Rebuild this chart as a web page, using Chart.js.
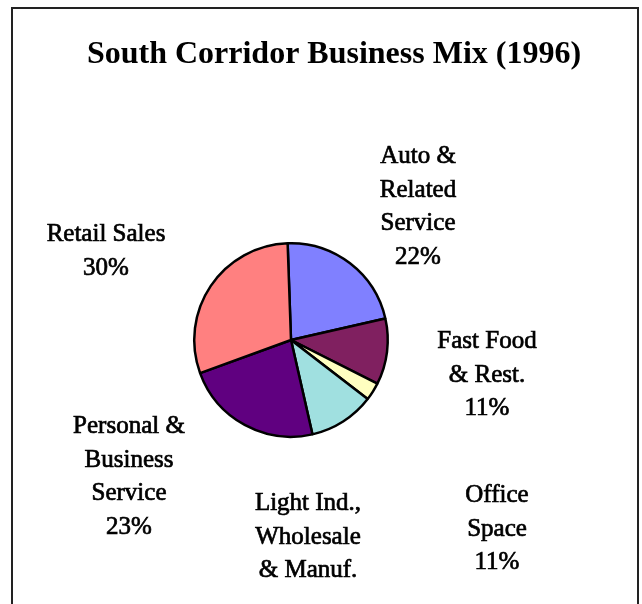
<!DOCTYPE html>
<html>
<head>
<meta charset="utf-8">
<script src="https://cdn.jsdelivr.net/npm/chart.js@4"></script>
<style>
  html, body { margin: 0; padding: 0; background: #fff; overflow: hidden; }
  #wrap { position: relative; width: 642px; height: 604px; }
  #frame { position: absolute; left: 11px; top: 7px; width: 628px; height: 620px; border: 2px solid #222; box-sizing: border-box; }
  canvas { position: absolute; left: 0; top: 0; }
</style>
</head>
<body>
<div id="wrap">
  <div id="frame"></div>
  <canvas id="c" width="642" height="604"></canvas>
</div>
<script>
const title = "South Corridor Business Mix (1996)";
const categories = ["Auto & Related Service", "Fast Food & Rest.", "Office Space", "Light Ind., Wholesale & Manuf.", "Personal & Business Service", "Retail Sales"];
const values = [22, 11, 3, 11, 23, 30];
const colors = ["#8080FF", "#802060", "#FFFFC0", "#A0E0E0", "#600080", "#FF8080"];
const labelLines = [
  ["Auto &", "Related", "Service", "22%"],
  ["Fast Food", "& Rest.", "11%"],
  ["Office", "Space", "11%"],
  ["Light Ind.,", "Wholesale", "& Manuf."],
  ["Personal &", "Business", "Service", "23%"],
  ["Retail Sales", "30%"]
];

// layout of the text blocks (centre x, first baseline y)
const labelAnchors = [[418, 163], [487, 348], [497, 502], [308, 510], [129, 433], [106, 241]];
const lineHeight = 33.5;

const textPlugin = {
  id: 'texts',
  afterDraw(chart) {
    const ctx = chart.ctx;
    ctx.save();
    ctx.fillStyle = '#000';
    ctx.strokeStyle = '#000';
    ctx.textAlign = 'center';
    ctx.textBaseline = 'alphabetic';
    ctx.font = 'bold 32px "Liberation Serif", "Times New Roman", serif';
    ctx.fillText(title, 334, 63);
    ctx.font = '25px "Liberation Serif", "Times New Roman", serif';
    ctx.lineWidth = 0.7;
    labelLines.forEach((lines, i) => {
      const [x, y] = labelAnchors[i];
      lines.forEach((t, j) => {
        ctx.fillText(t, x, y + j * lineHeight);
        ctx.strokeText(t, x, y + j * lineHeight);
      });
    });
    ctx.restore();
  }
};

new Chart(document.getElementById('c'), {
  type: 'pie',
  data: {
    labels: categories,
    datasets: [{
      data: values,
      backgroundColor: colors,
      borderColor: '#000',
      borderWidth: 2.5,
      borderAlign: 'center'
    }]
  },
  options: {
    responsive: false,
    animation: false,
    rotation: -2,
    layout: { padding: { left: 193, right: 253, top: 242, bottom: 166 } },
    plugins: {
      legend: { display: false },
      tooltip: { enabled: false },
      title: { display: false }
    }
  },
  plugins: [textPlugin]
});
</script>
</body>
</html>
